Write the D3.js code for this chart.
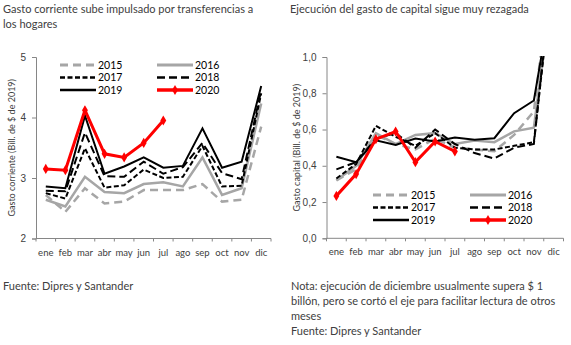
<!DOCTYPE html>
<html>
<head>
<meta charset="utf-8">
<script src="https://cdn.jsdelivr.net/npm/d3@7"></script>
<style>
  body { margin: 0; background: #fff; }
  svg { font-family: Lato, "Open Sans", sans-serif; }
</style>
</head>
<body>
<svg id="chart" width="571" height="345"></svg>
<script>
const months = ["ene","feb","mar","abr","may","jun","jul","ago","sep","oct","nov","dic"];
const years = ["2015","2016","2017","2018","2019","2020"];

// Gasto corriente (Bill. de $ de 2019)
const corr2015 = [2.72, 2.44, 2.83, 2.58, 2.61, 2.80, 2.80, 2.80, 2.90, 2.61, 2.64, 3.85];
const corr2016 = [2.64, 2.53, 3.02, 2.77, 2.75, 2.90, 2.93, 2.86, 3.34, 2.72, 2.83, 4.23];
const corr2017 = [2.75, 2.66, 3.49, 2.84, 2.88, 3.14, 3.00, 3.02, 3.53, 2.86, 2.87, 4.40];
const corr2018 = [2.79, 2.78, 3.75, 3.03, 3.02, 3.27, 3.07, 3.18, 3.58, 3.08, 2.98, 4.45];
const corr2019 = [2.86, 2.83, 4.03, 3.07, 3.19, 3.34, 3.17, 3.20, 3.82, 3.17, 3.27, 4.52];
const corr2020 = [3.15, 3.13, 4.12, 3.40, 3.34, 3.58, 3.95];

// Gasto capital (Bill. de $ de 2019); diciembre supera el eje
const cap2015 = [0.32, 0.38, 0.57, 0.52, 0.49, 0.55, 0.50, 0.49, 0.48, 0.57, 0.70, 1.60];
const cap2016 = [0.32, 0.40, 0.58, 0.52, 0.57, 0.58, 0.52, 0.54, 0.53, 0.59, 0.61, 1.45];
const cap2017 = [0.33, 0.41, 0.62, 0.56, 0.51, 0.58, 0.50, 0.49, 0.49, 0.51, 0.53, 1.50];
const cap2018 = [0.38, 0.42, 0.55, 0.58, 0.50, 0.60, 0.52, 0.47, 0.44, 0.50, 0.52, 1.55];
const cap2019 = [0.45, 0.42, 0.54, 0.515, 0.55, 0.534, 0.556, 0.543, 0.552, 0.69, 0.76, 1.40];
const cap2020 = [0.234, 0.354, 0.547, 0.589, 0.42, 0.534, 0.479];

const yTicksCorr = [2, 3, 4, 5];
const yTicksCap = [0, 0.2, 0.4, 0.6, 0.8, 1.0];

const styles = {
  "2015": { color: "#a6a6a6", width: 2.5, dash: "8,5" },
  "2016": { color: "#a6a6a6", width: 2.5, dash: null },
  "2017": { color: "#000", width: 2, dash: "5,2.5" },
  "2018": { color: "#000", width: 2, dash: "8,4" },
  "2019": { color: "#000", width: 2, dash: null },
  "2020": { color: "#ff0000", width: 3, dash: null }
};

const svg = d3.select("#chart");
const textColor = "#404040";
const axisColor = "#868686";

function drawPanel(opts) {
  const g = svg.append("g");
  const x = d3.scaleBand().domain(months).range([opts.left, opts.right]);
  const y = d3.scaleLinear().domain(opts.domain).range([opts.bottom, opts.top]);

  g.append("clipPath").attr("id", opts.id + "clip")
    .append("rect")
    .attr("x", opts.left).attr("y", opts.top - 1)
    .attr("width", opts.right - opts.left).attr("height", opts.bottom - opts.top + 1);

  // y axis
  const yAxis = g.append("g")
    .attr("transform", `translate(${opts.left},0)`)
    .call(d3.axisLeft(y).tickValues(opts.ticks).tickFormat(opts.fmt).tickSize(4).tickPadding(6));
  yAxis.select(".domain").attr("stroke", axisColor);
  yAxis.selectAll(".tick line").attr("stroke", axisColor);
  yAxis.selectAll(".tick text").attr("fill", textColor).style("font-size", "10px");

  // x axis, ticks at category boundaries
  const xAxis = g.append("g").attr("transform", `translate(0,${opts.bottom})`);
  xAxis.append("line").attr("x1", opts.left).attr("x2", opts.right).attr("stroke", axisColor);
  xAxis.selectAll("line.tk")
    .data(months.concat(["end"]))
    .join("line")
    .attr("class", "tk")
    .attr("x1", (d, i) => opts.left + i * x.step())
    .attr("x2", (d, i) => opts.left + i * x.step())
    .attr("y1", 0).attr("y2", 3)
    .attr("stroke", axisColor);
  xAxis.selectAll("text")
    .data(months)
    .join("text")
    .attr("x", d => x(d) + x.bandwidth() / 2)
    .attr("y", 17)
    .attr("text-anchor", "middle")
    .attr("fill", textColor)
    .style("font-size", "9.5px")
    .text(d => d);

  // y title
  g.append("text")
    .attr("transform", `translate(${opts.titleX},${(opts.top + opts.bottom) / 2}) rotate(-90)`)
    .attr("text-anchor", "middle")
    .attr("fill", textColor)
    .style("font-size", "9px")
    .text(opts.yTitle);

  const line = d3.line()
    .x((d, i) => x(months[i]) + x.bandwidth() / 2)
    .y(d => y(d));

  const lines = g.append("g").attr("clip-path", `url(#${opts.id}clip)`);
  years.forEach((yr, k) => {
    const st = styles[yr];
    lines.append("path")
      .datum(opts.series[k])
      .attr("fill", "none")
      .attr("stroke", st.color)
      .attr("stroke-width", st.width)
      .attr("stroke-dasharray", st.dash)
      .attr("stroke-linejoin", "miter")
      .attr("d", line);
  });
  const last = opts.series[5];
  lines.selectAll("path.mk")
    .data(last)
    .join("path")
    .attr("class", "mk")
    .attr("transform", (d, i) => `translate(${x(months[i]) + x.bandwidth() / 2},${y(d)})`)
    .attr("d", d3.symbol(d3.symbolDiamond, 30))
    .attr("fill", "#ff0000");

  // legend
  const lg = g.append("g");
  years.forEach((yr, k) => {
    const col = k % 2, row = Math.floor(k / 2);
    const lx = opts.legX + col * opts.legColW;
    const ly = opts.legY + row * 12.5;
    const st = styles[yr];
    lg.append("line")
      .attr("x1", lx).attr("x2", lx + 36)
      .attr("y1", ly).attr("y2", ly)
      .attr("stroke", st.color)
      .attr("stroke-width", st.width + 0.5)
      .attr("stroke-dasharray", st.dash);
    if (yr === "2020") {
      lg.append("path")
        .attr("transform", `translate(${lx + 18},${ly})`)
        .attr("d", d3.symbol(d3.symbolDiamond, 30))
        .attr("fill", "#ff0000");
    }
    lg.append("text")
      .attr("x", lx + 38).attr("y", ly + 3.5)
      .attr("fill", "#000")
      .style("font-size", "10.5px")
      .text(yr);
  });
}

drawPanel({
  id: "corr", left: 36, right: 271, top: 57, bottom: 238.5,
  domain: [2, 5], ticks: yTicksCorr, fmt: d3.format("d"),
  titleX: 15, yTitle: "Gasto corriente (Bill. de $ de 2019)",
  series: [corr2015, corr2016, corr2017, corr2018, corr2019, corr2020],
  legX: 60, legY: 65, legColW: 97
});

drawPanel({
  id: "cap", left: 326.5, right: 563.5, top: 57, bottom: 238.3,
  domain: [0, 1], ticks: yTicksCap, fmt: d => d3.format(".1f")(d).replace(".", ","),
  titleX: 300, yTitle: "Gasto capital (Bill. de $ de 2019)",
  series: [cap2015, cap2016, cap2017, cap2018, cap2019, cap2020],
  legX: 373, legY: 195, legColW: 97
});

// titles and notes
const txt = (x, y, s) => svg.append("text").attr("x", x).attr("y", y)
  .attr("fill", textColor).style("font-size", "11px").text(s);
txt(3, 13, "Gasto corriente sube impulsado por transferencias a");
txt(3, 28, "los hogares");
txt(290, 13, "Ejecución del gasto de capital sigue muy rezagada");
txt(3, 290, "Fuente: Dipres y Santander");
txt(291, 290, "Nota: ejecución de diciembre usualmente supera $ 1");
txt(291, 305, "billón, pero se cortó el eje para facilitar lectura de otros");
txt(291, 320, "meses");
txt(291, 335, "Fuente: Dipres y Santander");
</script>
</body>
</html>
